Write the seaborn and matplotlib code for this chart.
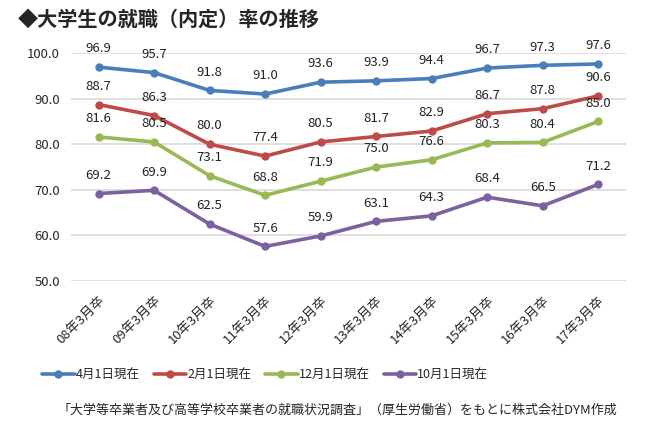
import pandas as pd
import matplotlib
matplotlib.use('Agg')
import matplotlib.pyplot as plt
import seaborn as sns

# Data
years = ['08年3月卒', '09年3月卒', '10年3月卒', '11年3月卒', '12年3月卒',
         '13年3月卒', '14年3月卒', '15年3月卒', '16年3月卒', '17年3月卒']
apr1 = [96.9, 95.7, 91.8, 91.0, 93.6, 93.9, 94.4, 96.7, 97.3, 97.6]
feb1 = [88.7, 86.3, 80.0, 77.4, 80.5, 81.7, 82.9, 86.7, 87.8, 90.6]
dec1 = [81.6, 80.5, 73.1, 68.8, 71.9, 75.0, 76.6, 80.3, 80.4, 85.0]
oct1 = [69.2, 69.9, 62.5, 57.6, 59.9, 63.1, 64.3, 68.4, 66.5, 71.2]
series_names = ['4月1日現在', '2月1日現在', '12月1日現在', '10月1日現在']
colors = ['#4A7EBB', '#BE4B48', '#98B954', '#7D60A0']

rows = []
for name, vals in zip(series_names, [apr1, feb1, dec1, oct1]):
    for i, v in enumerate(vals):
        rows.append({'pos': i, 'year': years[i], 'series': name, 'rate': v})
df = pd.DataFrame(rows)

sns.set_theme(style='white')
plt.rcParams['font.family'] = ['Noto Sans CJK JP', 'DejaVu Sans']

fig = plt.figure(figsize=(6.5, 4.24), dpi=100)
ax = fig.add_axes([0.109, 0.337, 0.854, 0.538])

sns.lineplot(data=df, x='pos', y='rate', hue='series', hue_order=series_names,
             palette=colors, marker='o', markersize=6, markeredgewidth=0,
             linewidth=2.6, ax=ax, legend=False)

for name, vals, c in zip(series_names, [apr1, feb1, dec1, oct1], colors):
    for i, v in enumerate(vals):
        ax.annotate(f'{v:.1f}', (i, v), xytext=(0, 8.5), textcoords='offset points',
                    ha='center', va='bottom', fontsize=9.5, color='#222222')

ax.set_xlim(-0.5, len(years) - 0.5)
ax.set_ylim(50, 100)
ax.set_yticks([50, 60, 70, 80, 90, 100])
ax.set_yticklabels([f'{t:.1f}' for t in [50, 60, 70, 80, 90, 100]], fontsize=9.5)
ax.set_xticks(range(len(years)))
ax.set_xticklabels(years, rotation=45, ha='right', rotation_mode='anchor', fontsize=9.5)
ax.tick_params(axis='y', length=0, pad=8)
ax.tick_params(axis='x', length=0, pad=9)
ax.grid(axis='y', color='#D9D9D9', linewidth=1.2)
ax.set_axisbelow(True)
for s in ax.spines.values():
    s.set_visible(False)
ax.set_xlabel('')
ax.set_ylabel('')

handles = [plt.Line2D([0], [0], color=c, linewidth=2.6, marker='o', markersize=5)
           for c in colors]
fig.legend(handles, series_names, loc='center', bbox_to_anchor=(0.408, 0.115), ncol=4,
           frameon=False, fontsize=9, handlelength=2.6, handletextpad=0.1,
           columnspacing=1.1)

fig.text(0.028, 0.955, '◆大学生の就職（内定）率の推移', fontsize=14.5, fontweight='bold',
         ha='left', va='center', family=['Noto Sans CJK JP', 'DejaVu Sans'])
fig.text(0.95, 0.033, '「大学等卒業者及び高等学校卒業者の就職状況調査」（厚生労働省）をもとに株式会社DYM作成',
         fontsize=9.4, ha='right', va='center')

fig.savefig('out.png', dpi=100)
